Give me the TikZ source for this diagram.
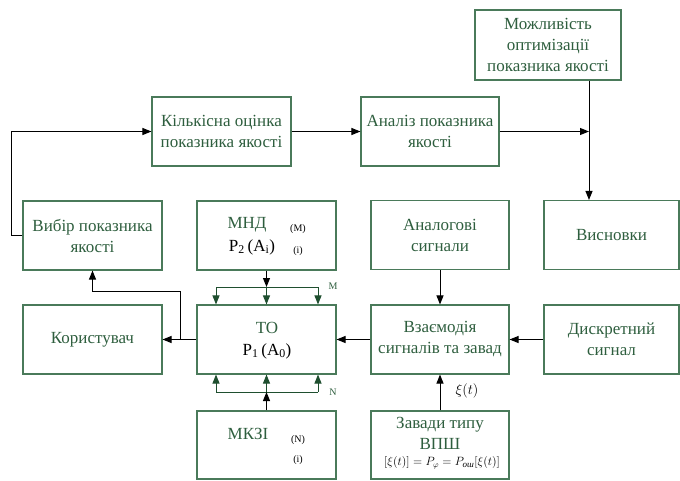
\documentclass[tikz,border=0pt]{standalone}
\usepackage{fontspec}
\setmainfont{Liberation Serif}
\usetikzlibrary{arrows.meta}
\definecolor{tgreen}{HTML}{2E5E3E}
\definecolor{bgreen}{HTML}{4A7A5A}
\definecolor{agreen}{HTML}{1F4F2F}
\begin{document}
\begin{tikzpicture}[x=1pt,y=-1pt,
  box/.style={draw=bgreen, line width=1.1pt, text=tgreen, align=center,
    font=\fontsize{17}{21}\selectfont, inner sep=0pt,
    minimum width=139pt, minimum height=69pt},
  conn/.style={-{Triangle[length=9pt,width=7pt]}, line width=1pt},
  gconn/.style={draw=agreen, line width=1pt, -{Triangle[length=9pt,width=7pt]}},
  small/.style={font=\fontsize{10}{11}\selectfont, inner sep=0pt},
  mid/.style={font=\fontsize{17}{20}\selectfont, inner sep=0pt}]
\useasboundingbox (0,0) rectangle (680,480);
% boxes
\node[box, minimum width=146pt, minimum height=70pt] (mozh) at (548,45) {Можливість\\оптимізації\\показника якості};
\node[box] (kilk) at (221.5,131.5) {Кількісна оцінка\\показника якості};
\node[box, minimum width=138pt] (anal) at (430,131.5) {Аналіз показника\\якості};
\node[box] (vybir) at (92.5,235.5) {Вибір показника\\якості};
\node[box] (mnd) at (266.5,235.5) {};
\node[box, minimum width=138pt] (analog) at (440,235) {Аналогові\\сигнали};
\node[box, minimum width=135pt] (vysn) at (611.5,235) {Висновки};
\node[box] (kor) at (92.5,339.5) {Користувач};
\node[box] (to) at (266.5,339.5) {};
\node[box, minimum width=138pt] (vzaem) at (440,339.5) {Взаємодія\\сигналів та завад};
\node[box, minimum width=135pt] (dysk) at (611.5,339.5) {Дискретний\\сигнал};
\node[box, minimum height=68pt] (mkzi) at (266.5,445) {};
\node[box, minimum width=138pt, minimum height=68pt] (zav) at (440,445) {};
% inner texts
\node[mid, text=tgreen] (mndt) at (247,225) {МНД};
\node[small] (mndm) at (298,229) {(M)};
\node[mid] (mndp) at (252,247) {P\textsubscript{2}\,(A\textsubscript{i})};
\node[small] (mndi) at (298,251) {(i)};
\node[mid, text=tgreen] (tot) at (267,328) {ТО};
\node[mid] (top) at (267,351) {P\textsubscript{1}\,(A\textsubscript{0})};
\node[mid, text=tgreen] (mkzit) at (248,434) {МКЗІ};
\node[small] (mkzin) at (298,440) {(N)};
\node[small] (mkzii) at (298,460) {(i)};
\node[mid, text=tgreen] (zavt) at (440,425) {Завади типу};
\node[mid, text=tgreen] (zavv) at (440,444) {ВПШ};
\node[inner sep=0pt, font=\fontsize{12}{13}\selectfont] (zavf) at (442,463)
  {$\bigl[\xi(t)\bigr]=P_{\varphi}=P_{\mbox{\fontsize{9}{10}\selectfont\itshape ош}}\bigl[\xi(t)\bigr]$};
\node[small, text=tgreen] (lm) at (333,286) {M};
\node[small, text=tgreen] (ln) at (333,392) {N};
\node[inner sep=0pt, font=\fontsize{15}{16}\selectfont] (lxi) at (467,391) {$\xi(t)$};
% coordinates
\coordinate (fb) at (11,235.5);
\coordinate (j1) at (589,131.5);
\coordinate (md) at (266.5,287);
\coordinate (mdl) at (216,287);
\coordinate (mdr) at (318,287);
\coordinate (nd) at (266.5,392);
\coordinate (ndl) at (216,392);
\coordinate (ndr) at (318,392);
\coordinate (br) at (180,339.5);
\coordinate (bt) at (180,291);
% connectors
\draw[conn] (vybir.west) -- (fb) |- (kilk.west);
\draw[conn] (kilk.east) -- (anal.west);
\draw[conn] (anal.east) -- (j1);
\draw[conn] (j1 |- mozh.south) -- (j1 |- vysn.north);
\draw[conn] (mnd.south) -- (md);
\draw[agreen, line width=1pt] (mdl) -- (mdr);
\draw[gconn] (mdl) -- (mdl |- to.north);
\draw[gconn] (md) -- (to.north);
\draw[gconn] (mdr) -- (mdr |- to.north);
\draw[agreen, line width=1pt] (ndl) -- (ndr);
\draw[gconn] (ndl) -- (ndl |- to.south);
\draw[gconn] (nd) -- (to.south);
\draw[gconn] (ndr) -- (ndr |- to.south);
\draw[conn] (mkzi.north) -- (nd);
\draw[conn] (to.west) -- (kor.east);
\draw[conn] (br) -- (bt) -| (vybir.south);
\draw[conn] (vzaem.west) -- (to.east);
\draw[conn] (dysk.west) -- (vzaem.east);
\draw[conn] (analog.south) -- (vzaem.north);
\draw[conn] (zav.north) -- (vzaem.south);
\end{tikzpicture}
\end{document}
